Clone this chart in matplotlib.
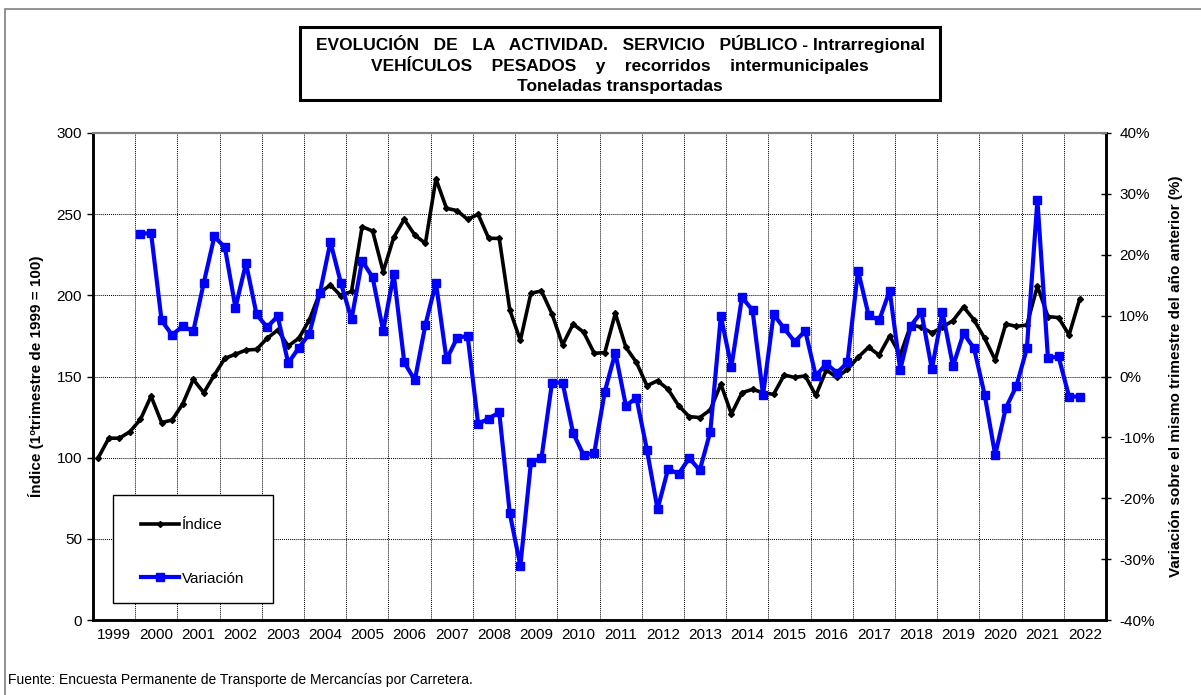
import numpy as np
import matplotlib
matplotlib.use('Agg')
import matplotlib.pyplot as plt
import matplotlib.ticker as mticker
from matplotlib.lines import Line2D
from matplotlib.patches import Rectangle

plt.rcParams['font.family'] = ['Liberation Sans', 'DejaVu Sans']

# Data: quarterly, 1999Q1 - 2022Q2
years = [str(y) for y in range(1999, 2023)]

indice = [100, 112, 112, 116,
          123.6, 137.9, 121.6, 123.2,
          133.1, 148.2, 140, 150.9,
          161.2, 163.7, 166.3, 166.7,
          173.5, 178.6, 168.8, 173.5,
          184.8, 201.6, 206.4, 199.6,
          202.5, 242.3, 239.6, 214.6,
          235.7, 246.8, 237.1, 232,
          271.7, 253.6, 252.2, 246.8,
          249.9, 235.1, 235.1, 191,
          172.2, 201.3, 202.7, 188.5,
          169.5, 182.3, 177.3, 164.3,
          164.7, 188.9, 168, 158.7,
          144.3, 147.4, 142.1, 132,
          125.3, 124.7, 129.4, 145.3,
          126.9, 140, 142.1, 140,
          139, 150.9, 149.4, 150.4,
          138.3, 154, 149.4, 154.4,
          161.8, 168, 163.2, 175,
          163.2, 181.7, 180.5, 176.8,
          180.5, 184.4, 192.9, 184.8,
          173.5, 160.2, 182.3, 180.9,
          181.7, 205.7, 186.9, 186.3,
          175.6, 197.5]

# Variation (%) starting 2000Q1
variacion = [23.4, 23.6, 9.2, 6.8,
             8.3, 7.4, 15.4, 23.0,
             21.2, 11.3, 18.6, 10.2,
             8.1, 9.9, 2.2, 4.7,
             7.0, 13.7, 22.1, 15.3,
             9.4, 19.0, 16.3, 7.5,
             16.8, 2.3, -0.6, 8.5,
             15.4, 2.8, 6.3, 6.7,
             -7.8, -6.9, -5.9, -22.5,
             -31.1, -14.1, -13.4, -1.0,
             -1.0, -9.3, -12.9, -12.6,
             -2.5, 3.9, -4.8, -3.5,
             -12.1, -21.8, -15.2, -16.0,
             -13.4, -15.4, -9.1, 9.9,
             1.6, 13.0, 10.9, -3.0,
             10.2, 7.9, 5.7, 7.5,
             0.1, 2.1, 0.6, 2.3,
             17.4, 10.1, 9.2, 14.1,
             1.1, 8.3, 10.6, 1.2,
             10.6, 1.7, 7.1, 4.6,
             -3.0, -12.9, -5.2, -1.6,
             4.6, 29.0, 3.0, 3.3,
             -3.3, -3.3]

x_ind = np.arange(len(indice)) + 0.5
x_var = np.arange(4, 4 + len(variacion)) + 0.5

W, H = 1201, 695
fig = plt.figure(figsize=(W / 100, H / 100), dpi=100)
ax = fig.add_axes([93 / W, 1 - 620 / H, (1106 - 93) / W, (620 - 133) / H])
ax2 = ax.twinx()

ax.plot(x_ind, indice, color='black', lw=2.6, marker='D', ms=3, zorder=3)
ax2.plot(x_var, variacion, color='#0000ff', lw=3, marker='s', ms=5.5, zorder=3)

ax.set_xlim(0, 96)
ax.set_ylim(0, 300)
ax2.set_ylim(-40, 40)

ax.yaxis.set_major_locator(mticker.MultipleLocator(50))
ax2.yaxis.set_major_locator(mticker.MultipleLocator(10))
ax2.yaxis.set_major_formatter(mticker.FuncFormatter(lambda v, _: f'{v:.0f}%'))

ax.xaxis.set_major_locator(mticker.FixedLocator(np.arange(4, 96, 4)))
ax.xaxis.set_major_formatter(mticker.NullFormatter())
ax.xaxis.set_minor_locator(mticker.FixedLocator(np.arange(2, 96, 4)))
ax.xaxis.set_minor_formatter(mticker.FixedFormatter(years))
ax.tick_params(axis='x', which='both', length=0, labelsize=11, pad=6)
ax.tick_params(axis='y', direction='out', length=4, width=1, labelsize=11, pad=4)
ax2.tick_params(axis='y', direction='inout', length=7, width=1, labelsize=11, pad=6)

ax.grid(True, which='major', color='black', linestyle=(0, (1, 1)), linewidth=0.7)
ax.set_axisbelow(True)

for a in (ax, ax2):
    a.spines['top'].set_color('#808080')
    a.spines['top'].set_linewidth(1.5)
    a.spines['left'].set_linewidth(1.8)
    a.spines['bottom'].set_linewidth(1.8)
    a.spines['right'].set_linewidth(1.8)

ax.set_ylabel('Índice (1ºtrimestre de 1999 = 100)', fontsize=11, fontweight='bold', labelpad=9)
ax2.set_ylabel('Variación sobre el mismo trimestre del año anterior (%)', fontsize=11,
               fontweight='bold', labelpad=10)

# legend box and entries
ax2.add_patch(Rectangle((113 / W, 1 - 603 / H), 160 / W, 108 / H, transform=fig.transFigure,
                        facecolor='white', edgecolor='black', linewidth=1, zorder=4,
                        clip_on=False))
handles = [Line2D([], [], color='black', lw=2.6, marker='D', ms=3),
           Line2D([], [], color='#0000ff', lw=3, marker='s', ms=5.5)]
leg = ax2.legend(handles, ['Índice', 'Variación'], loc='upper left',
                 bbox_to_anchor=(141 / W, 1 - 518 / H), bbox_transform=fig.transFigure,
                 fontsize=11, frameon=False, borderpad=0, labelspacing=2.6,
                 handlelength=2.5, handletextpad=0.2, borderaxespad=0)
leg.set_zorder(5)

# title box
fig.patches.append(Rectangle((300 / W, 1 - 100 / H), 640 / W, 73 / H, transform=fig.transFigure,
                             fill=False, edgecolor='black', linewidth=2.2))
tkw = dict(ha='center', va='center', fontsize=12.5, fontweight='bold')
fig.text(620 / W, 1 - 44 / H,
         'EVOLUCIÓN   DE   LA   ACTIVIDAD.   SERVICIO   PÚBLICO - Intrarregional', **tkw)
fig.text(620 / W, 1 - 65 / H, 'VEHÍCULOS    PESADOS    y    recorridos    intermunicipales',
         **tkw)
fig.text(620 / W, 1 - 86 / H, 'Toneladas transportadas', **tkw)

fig.text(8 / W, 1 - 680 / H, 'Fuente: Encuesta Permanente de Transporte de Mercancías por Carretera.',
         ha='left', va='center', fontsize=10)

# outer frame
fig.patches.append(Rectangle((5 / W, -0.05), 1.1, 1 - 9 / H + 0.05, transform=fig.transFigure,
                             fill=False, edgecolor='#808080', linewidth=1.2))

fig.savefig('out.png', dpi=100)
